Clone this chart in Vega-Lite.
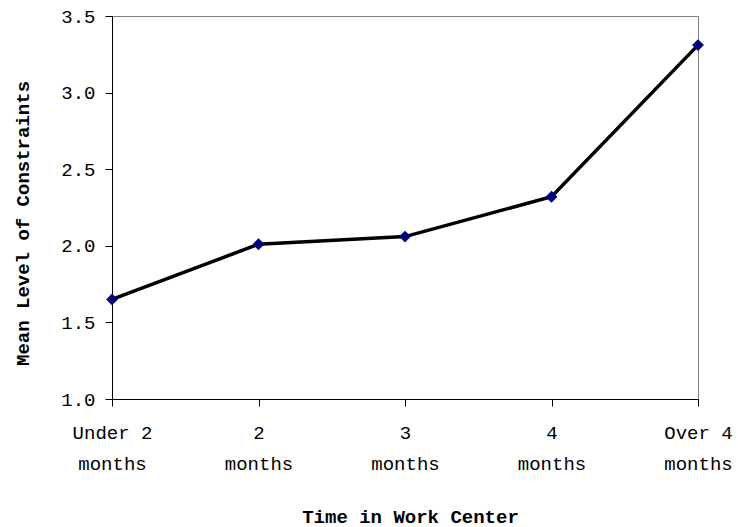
{
  "$schema": "https://vega.github.io/schema/vega-lite/v6.json",
  "width": 586,
  "height": 383,
  "autosize": {"type": "none"},
  "padding": {"left": 112, "top": 16, "right": 40, "bottom": 128},
  "background": "white",
  "config": {
    "view": {"stroke": "#808080", "strokeWidth": 1},
    "font": "Liberation Mono"
  },
  "data": {
    "values": [
      {"time": "Under 2 months", "mean": 1.65},
      {"time": "2 months", "mean": 2.01},
      {"time": "3 months", "mean": 2.06},
      {"time": "4 months", "mean": 2.32},
      {"time": "Over 4 months", "mean": 3.31}
    ]
  },
  "encoding": {
    "x": {
      "field": "time",
      "type": "nominal",
      "sort": null,
      "scale": {"type": "point", "padding": 0},
      "axis": {
        "title": "Time in Work Center",
        "labelAngle": 0,
        "labelFont": "Liberation Mono",
        "labelFontSize": 19,
        "labelColor": "#000",
        "labelBaseline": "top",
        "labelPadding": 17,
        "labelLineHeight": 31,
        "labelExpr": "[replace(datum.label, ' months', ''), 'months']",
        "domainColor": "#000",
        "tickColor": "#000",
        "tickSize": 7,
        "titleFont": "Liberation Mono",
        "titleFontSize": 19,
        "titleFontWeight": "bold",
        "titleColor": "#000",
        "titleX": 298,
        "titleY": 117,
        "titleBaseline": "middle",
        "titleAlign": "center"
      }
    },
    "y": {
      "field": "mean",
      "type": "quantitative",
      "scale": {"domain": [1, 3.5], "nice": false, "zero": false},
      "axis": {
        "title": "Mean Level of Constraints",
        "values": [1, 1.5, 2, 2.5, 3, 3.5],
        "format": ".1f",
        "grid": false,
        "labelFont": "Liberation Mono",
        "labelFontSize": 19,
        "labelColor": "#000",
        "labelPadding": 10,
        "domainColor": "#000",
        "tickColor": "#000",
        "tickSize": 7,
        "titleFont": "Liberation Mono",
        "titleFontSize": 19,
        "titleFontWeight": "bold",
        "titleColor": "#000",
        "titleX": -90,
        "titleY": 207,
        "titleBaseline": "middle",
        "titleAlign": "center"
      }
    }
  },
  "layer": [
    {"mark": {"type": "line", "color": "#000", "strokeWidth": 3.5}},
    {"mark": {"type": "point", "shape": "diamond", "filled": true, "color": "#000080", "size": 140, "opacity": 1}}
  ]
}
